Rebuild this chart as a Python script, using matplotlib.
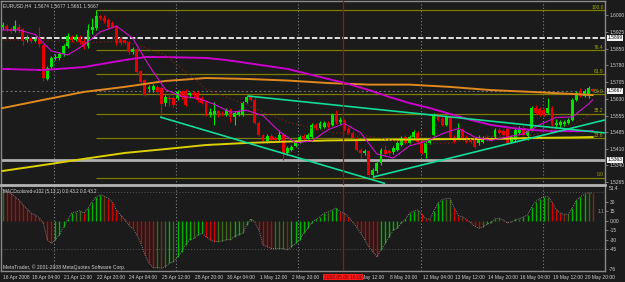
import numpy as np
import matplotlib
matplotlib.use("Agg")
import matplotlib.pyplot as plt
from matplotlib.transforms import blended_transform_factory as blend

plt.rcParams['font.family'] = ['Liberation Sans Narrow', 'Liberation Sans', 'DejaVu Sans']

# EURUSD H4 candles
opens = [1.5946, 1.5950, 1.5937, 1.5928, 1.5946, 1.5937, 1.5889, 1.5898, 1.5885, 1.5898,
         1.5867, 1.5718, 1.5770, 1.5810, 1.5810, 1.5827, 1.5863, 1.5902, 1.5889, 1.5902,
         1.5885, 1.5863, 1.5933, 1.5942, 1.5994, 1.5985, 1.5977, 1.5964, 1.5946, 1.5898,
         1.5889, 1.5880, 1.5836, 1.5849, 1.5753, 1.5713, 1.5674, 1.5669, 1.5683, 1.5678,
         1.5612, 1.5634, 1.5634, 1.5634, 1.5661, 1.5665, 1.5647, 1.5656, 1.5656, 1.5634,
         1.5617, 1.5560, 1.5564, 1.5577, 1.5568, 1.5560, 1.5582, 1.5551, 1.5560, 1.5560,
         1.5617, 1.5639, 1.5626, 1.5525, 1.5472, 1.5446, 1.5467, 1.5459, 1.5450, 1.5472,
         1.5393, 1.5406, 1.5424, 1.5441, 1.5467, 1.5454, 1.5463, 1.5516, 1.5503, 1.5507,
         1.5525, 1.5516, 1.5560, 1.5529, 1.5533, 1.5498, 1.5481, 1.5459, 1.5406, 1.5393,
         1.5402, 1.5296, 1.5314, 1.5349, 1.5406, 1.5402, 1.5397, 1.5406, 1.5428, 1.5463,
         1.5437, 1.5463, 1.5481, 1.5441, 1.5393, 1.5437, 1.5472, 1.5560, 1.5542, 1.5516,
         1.5551, 1.5463, 1.5459, 1.5494, 1.5463, 1.5454, 1.5450, 1.5437, 1.5441, 1.5463,
         1.5459, 1.5463, 1.5494, 1.5489, 1.5498, 1.5441, 1.5450, 1.5481, 1.5503, 1.5467,
         1.5494, 1.5590, 1.5586, 1.5582, 1.5568, 1.5590, 1.5516, 1.5516, 1.5520, 1.5525,
         1.5538, 1.5626, 1.5661, 1.5643, 1.5643, 1.5674]
highs = [1.5968, 1.5959, 1.5946, 1.5977, 1.5959, 1.5942, 1.5911, 1.5906, 1.5902, 1.5946,
         1.5871, 1.5775, 1.5819, 1.5827, 1.5836, 1.5871, 1.5920, 1.5911, 1.5915, 1.5911,
         1.5898, 1.5959, 1.5985, 1.6019, 1.5999, 1.5999, 1.5985, 1.5972, 1.5955, 1.5906,
         1.5893, 1.5885, 1.5858, 1.5854, 1.5757, 1.5718, 1.5691, 1.5696, 1.5691, 1.5687,
         1.5647, 1.5656, 1.5643, 1.5669, 1.5669, 1.5674, 1.5661, 1.5665, 1.5665, 1.5643,
         1.5626, 1.5590, 1.5617, 1.5582, 1.5577, 1.5590, 1.5590, 1.5577, 1.5582, 1.5621,
         1.5647, 1.5647, 1.5634, 1.5533, 1.5476, 1.5476, 1.5476, 1.5467, 1.5494, 1.5481,
         1.5424, 1.5428, 1.5450, 1.5472, 1.5476, 1.5481, 1.5525, 1.5525, 1.5533, 1.5533,
         1.5533, 1.5568, 1.5582, 1.5551, 1.5542, 1.5507, 1.5489, 1.5467, 1.5415, 1.5410,
         1.5406, 1.5327, 1.5358, 1.5415, 1.5428, 1.5410, 1.5424, 1.5446, 1.5467, 1.5472,
         1.5472, 1.5494, 1.5489, 1.5450, 1.5446, 1.5459, 1.5568, 1.5568, 1.5551, 1.5560,
         1.5560, 1.5472, 1.5525, 1.5503, 1.5472, 1.5463, 1.5459, 1.5472, 1.5467, 1.5472,
         1.5467, 1.5503, 1.5503, 1.5498, 1.5507, 1.5472, 1.5503, 1.5511, 1.5511, 1.5498,
         1.5599, 1.5604, 1.5595, 1.5590, 1.5634, 1.5599, 1.5542, 1.5538, 1.5538, 1.5547,
         1.5634, 1.5665, 1.5678, 1.5674, 1.5687, 1.5677]
lows = [1.5933, 1.5928, 1.5920, 1.5924, 1.5920, 1.5867, 1.5880, 1.5876, 1.5880, 1.5858,
        1.5709, 1.5713, 1.5762, 1.5801, 1.5801, 1.5819, 1.5854, 1.5880, 1.5885, 1.5871,
        1.5849, 1.5854, 1.5915, 1.5933, 1.5977, 1.5964, 1.5942, 1.5942, 1.5867, 1.5867,
        1.5871, 1.5827, 1.5827, 1.5744, 1.5696, 1.5643, 1.5661, 1.5661, 1.5652, 1.5551,
        1.5599, 1.5599, 1.5595, 1.5626, 1.5630, 1.5599, 1.5634, 1.5634, 1.5617, 1.5608,
        1.5555, 1.5551, 1.5516, 1.5551, 1.5555, 1.5555, 1.5529, 1.5516, 1.5555, 1.5555,
        1.5612, 1.5621, 1.5520, 1.5467, 1.5437, 1.5437, 1.5446, 1.5446, 1.5446, 1.5362,
        1.5384, 1.5402, 1.5419, 1.5437, 1.5450, 1.5450, 1.5459, 1.5494, 1.5498, 1.5503,
        1.5503, 1.5511, 1.5520, 1.5520, 1.5489, 1.5476, 1.5454, 1.5402, 1.5371, 1.5384,
        1.5285, 1.5287, 1.5305, 1.5340, 1.5380, 1.5384, 1.5388, 1.5402, 1.5424, 1.5432,
        1.5432, 1.5459, 1.5432, 1.5388, 1.5371, 1.5432, 1.5467, 1.5533, 1.5511, 1.5511,
        1.5459, 1.5437, 1.5454, 1.5454, 1.5437, 1.5437, 1.5415, 1.5428, 1.5437, 1.5446,
        1.5446, 1.5459, 1.5476, 1.5467, 1.5432, 1.5437, 1.5441, 1.5476, 1.5467, 1.5450,
        1.5489, 1.5564, 1.5555, 1.5555, 1.5564, 1.5511, 1.5503, 1.5503, 1.5511, 1.5520,
        1.5533, 1.5621, 1.5639, 1.5639, 1.5634, 1.5661]
closes = [1.5955, 1.5937, 1.5928, 1.5950, 1.5933, 1.5885, 1.5898, 1.5885, 1.5893, 1.5871,
          1.5722, 1.5766, 1.5810, 1.5814, 1.5827, 1.5863, 1.5906, 1.5889, 1.5902, 1.5880,
          1.5858, 1.5933, 1.5946, 1.5994, 1.5985, 1.5972, 1.5946, 1.5946, 1.5876, 1.5876,
          1.5876, 1.5836, 1.5849, 1.5748, 1.5705, 1.5647, 1.5683, 1.5687, 1.5661, 1.5608,
          1.5639, 1.5630, 1.5604, 1.5661, 1.5639, 1.5604, 1.5656, 1.5647, 1.5626, 1.5612,
          1.5564, 1.5573, 1.5577, 1.5560, 1.5560, 1.5582, 1.5551, 1.5568, 1.5573, 1.5612,
          1.5639, 1.5626, 1.5525, 1.5472, 1.5446, 1.5467, 1.5450, 1.5450, 1.5472, 1.5393,
          1.5415, 1.5419, 1.5441, 1.5463, 1.5454, 1.5472, 1.5516, 1.5503, 1.5525, 1.5525,
          1.5507, 1.5560, 1.5529, 1.5538, 1.5494, 1.5481, 1.5459, 1.5406, 1.5393, 1.5402,
          1.5296, 1.5318, 1.5349, 1.5406, 1.5388, 1.5393, 1.5415, 1.5437, 1.5459, 1.5437,
          1.5463, 1.5485, 1.5441, 1.5393, 1.5437, 1.5450, 1.5560, 1.5538, 1.5516, 1.5551,
          1.5463, 1.5441, 1.5494, 1.5459, 1.5441, 1.5441, 1.5419, 1.5463, 1.5459, 1.5450,
          1.5450, 1.5494, 1.5481, 1.5472, 1.5437, 1.5463, 1.5494, 1.5503, 1.5472, 1.5489,
          1.5590, 1.5568, 1.5560, 1.5560, 1.5590, 1.5516, 1.5525, 1.5529, 1.5529, 1.5538,
          1.5626, 1.5656, 1.5643, 1.5665, 1.5678, 1.5667]

# moving averages, sampled at bar positions
fast_bars = [0, 4, 8, 12, 16, 20, 24, 28, 32, 36, 40, 44, 48, 52, 56, 60, 64, 68, 72, 76,
             80, 84, 88, 92, 96, 100, 104, 108, 112, 116, 120, 124, 128, 132, 136, 140, 144, 145]
fast_ma = [1.5933, 1.5933, 1.5913, 1.5841, 1.5823, 1.5867, 1.5924, 1.5950, 1.5897, 1.5777,
           1.5672, 1.5641, 1.5633, 1.5607, 1.5572, 1.5580, 1.5557, 1.5488, 1.5438, 1.5446,
           1.5495, 1.5522, 1.5482, 1.5388, 1.5371, 1.5424, 1.5444, 1.5477, 1.5501, 1.5463,
           1.5448, 1.5463, 1.5477, 1.5517, 1.5549, 1.5551, 1.5608, 1.5626]
slow_bars = [0, 10, 20, 30, 35, 40, 50, 55, 60, 65, 70, 75, 80, 85, 90, 95, 100, 105, 110,
             115, 120, 125, 130, 135, 140, 145]
slow_ma = [1.5762, 1.5757, 1.5770, 1.5801, 1.5814, 1.5814, 1.5810, 1.5801, 1.5788, 1.5775,
           1.5762, 1.5740, 1.5718, 1.5696, 1.5669, 1.5639, 1.5612, 1.5590, 1.5564, 1.5538,
           1.5516, 1.5503, 1.5494, 1.5489, 1.5489, 1.5489]
long_bars = [0, 10, 20, 30, 40, 50, 60, 70, 80, 90, 100, 110, 120, 130, 140, 145]
orange_ma = [1.5590, 1.5626, 1.5661, 1.5683, 1.5709, 1.5722, 1.5718, 1.5711, 1.5700, 1.5693,
             1.5693, 1.5683, 1.5669, 1.5661, 1.5652, 1.5647]
yellow_ma = [1.5314, 1.5340, 1.5367, 1.5393, 1.5410, 1.5428, 1.5437, 1.5443, 1.5448, 1.5450,
             1.5452, 1.5454, 1.5454, 1.5459, 1.5461, 1.5463]
dotted_ma = [1.5889, 1.5889, 1.5876, 1.5885, 1.5823, 1.5674, 1.5604, 1.5529, 1.5485, 1.5467,
             1.5434, 1.5437, 1.5467, 1.5470, 1.5518, 1.5565]

# trend lines (bar, price) pairs
trend_lines = [((38.7, 1.5551), (94.0, 1.5259)),
               ((60.3, 1.5643), (148.0, 1.5481)),
               ((91.0, 1.5287), (148.0, 1.5538))]

fib_low, fib_high, fib_start = 1.5285, 1.6019, 23
fib_pcts = [0.0, 23.6, 38.2, 50.0, 61.8, 76.4, 100.0]

price_ticks = [1.6000, 1.5925, 1.5850, 1.5780, 1.5705, 1.5630, 1.5555, 1.5485, 1.5410,
               1.5340, 1.5265]
marked_prices = [1.5899, 1.5667, 1.5363]

macd = [50, 46, 43, 38, 33, 25, 19, 12, 9, 5,
        -4, -30, -36, -30, -22, -10, 2, 12, 14, 16,
        12, 20, 30, 38, 41, 39, 35, 30, 17, 9,
        2, -7, -12, -23, -36, -54, -67, -74, -74, -75,
        -73, -67, -65, -57, -49, -38, -30, -28, -23, -20,
        -25, -30, -33, -33, -32, -30, -30, -25, -22, -20,
        -7, 3, -2, -15, -38, -41, -44, -44, -44, -44,
        -46, -41, -36, -30, -20, -12, -3, 2, 6, 12,
        14, 17, 20, 14, 12, 6, -2, -10, -20, -30,
        -41, -49, -57, -46, -36, -25, -15, -12, -3, 2,
        12, 15, 17, 10, 3, 2, 16, 28, 33, 35,
        35, 20, 8, 6, 2, -3, -9, -12, -10, -6,
        -3, 3, 4, 1, -3, -2, 2, 3, 6, 9,
        22, 30, 35, 38, 38, 30, 18, 12, 10, 10,
        20, 32, 38, 42, 44, 43.2]
macd_ticks = [30, 15, 0, -15, -30, -45]
macd_tick_labels = ['30', '15', '0.00', '-15', '-30', '-45']

date_bars = [7, 15, 23, 31, 39, 47, 55, 63, 71, 87, 95, 103, 111, 119, 127, 135, 143]
date_labels = ['18 Apr 04:00', '21 Apr 12:00', '22 Apr 20:00', '24 Apr 04:00', '25 Apr 12:00',
               '28 Apr 20:00', '30 Apr 04:00', '1 May 12:00', '2 May 20:00', '7 May 12:00',
               '8 May 20:00', '12 May 04:00', '13 May 12:00', '14 May 20:00', '16 May 04:00',
               '19 May 12:00', '20 May 20:00']
separator_bars = [12.7, 42.7, 72.7, 102.7, 132.7]
cursor_bar = 83.75

BG = '#1b1b1b'
FG = '#d0d0d0'
FRAME = '#8a8a8a'
W, H = 625, 282
FS = 3.5


def box(x0, y0, x1, y1):
    return [x0 / W, 1 - y1 / H, (x1 - x0) / W, (y1 - y0) / H]


fig = plt.figure(figsize=(W / 100, H / 100), dpi=100, facecolor=BG)
ax = fig.add_axes(box(1, 1, 605, 185), facecolor=BG)
am = fig.add_axes(box(1, 187, 605, 271), facecolor=BG)

n = len(closes)
idx = np.arange(n)
x_lo, x_hi = -0.37, 148.03
for a in (ax, am):
    a.set_xlim(x_lo, x_hi)
    a.set_xticks([])
    for s in a.spines.values():
        s.set_color(FRAME)
        s.set_linewidth(1)
ax.set_ylim(1.52524, 1.60601)
am.set_ylim(-79.5, 53.2)
ax.spines['bottom'].set_color('#b4b4b4')
ax.spines['bottom'].set_linewidth(2)
am.spines['top'].set_visible(False)

# grid / separators
for a in (ax, am):
    for b in separator_bars:
        a.axvline(b, color='#7a8494', lw=0.8, ls=(0, (1, 2)), zorder=1)
    a.axvline(cursor_bar, color='#9a1414', lw=0.9, zorder=6)

# fibonacci
for pct in fib_pcts:
    p = fib_low + (fib_high - fib_low) * pct / 100
    ax.hlines(p, fib_start, x_hi, color='#7c7c00', lw=0.9, zorder=2)
    ax.text(x_hi - 0.3, p + 0.0012, f'{pct:.1f}', ha='right', va='center',
            color='#a8a800', fontsize=FS, zorder=7)

# horizontal lines
ax.axhline(marked_prices[0], color='#f0f0f0', lw=1.3, ls=(0, (3, 1.2)), zorder=2)
ax.axhline(marked_prices[1], color='#6c6c6c', lw=0.8, ls=(0, (2, 2)), zorder=2)
ax.axhline(marked_prices[2], color='#b0b0b0', lw=2.0, zorder=2)

# slow lines
ax.plot(long_bars, yellow_ma, color='#dcd000', lw=1.4, zorder=4)
ax.plot(long_bars, orange_ma, color='#e0891e', lw=1.4, zorder=4)
ax.plot(slow_bars, slow_ma, color='#cc00cc', lw=1.4, zorder=4)
ax.plot(long_bars, dotted_ma, color='#7a2010', lw=0.9, ls=(0, (1, 2)), zorder=4)

# candles
o = np.array(opens)
c = np.array(closes)
up = c >= o
col = np.where(up, '#00e400', '#e80000')
ax.vlines(idx, lows, highs, colors=col, lw=0.8, zorder=3)
ax.bar(idx, np.maximum(np.abs(c - o), 0.0003), bottom=np.minimum(o, c), width=0.72,
       color=col, lw=0, zorder=3)

ax.plot(fast_bars, fast_ma, color='#d010d0', lw=0.8, zorder=5)

for (b0, p0), (b1, p1) in trend_lines:
    ax.plot([b0, b1], [p0, p1], color='#12dc96', lw=1.2, zorder=5, solid_capstyle='butt')

# price scale
ax.yaxis.tick_right()
ax.set_yticks(price_ticks)
ax.set_yticklabels([f'{p:.4f}' for p in price_ticks], fontsize=FS, color=FG)
ax.tick_params(axis='y', colors=FRAME, labelcolor=FG, length=2, width=0.6, pad=1.2)
tr = blend(ax.transAxes, ax.transData)
for p in marked_prices:
    ax.text(1.0045, p, f'{p:.4f}', transform=tr, ha='left', va='center', fontsize=FS,
            color='#111111', zorder=8, clip_on=False,
            bbox=dict(facecolor='#f4f4f4', edgecolor='none', pad=0.4))

# MACD histogram
prev = np.concatenate([[macd[0]], macd[:-1]])
d = np.array(macd) - prev
mcol = []
for v in d:
    if v >= 0:
        mcol.append('#00b400' if v > 2.5 else '#3e6a1a')
    else:
        mcol.append('#d00000' if v < -2.5 else '#72301a')
am.vlines(idx, 0, macd, colors=mcol, lw=1.0, zorder=3)
am.plot(idx, macd, color='#9c9c9c', lw=0.6, ls=(0, (1, 1.5)), zorder=4)
for lvl in (45, -45):
    am.axhline(lvl, color='#5a5a5a', lw=0.7, ls=(0, (1, 2)), zorder=1)
am.yaxis.tick_right()
am.set_yticks(macd_ticks)
am.set_yticklabels(macd_tick_labels, fontsize=FS, color=FG)
am.tick_params(axis='y', colors=FRAME, labelcolor=FG, length=2, width=0.6, pad=1.2)
trm = blend(am.transAxes, am.transData)
am.text(1.006, 50.5, '51.4', transform=trm, ha='left', va='center', fontsize=FS, color=FG)
am.text(1.006, -76.5, '-76', transform=trm, ha='left', va='center', fontsize=FS, color=FG)
am.text(146.2, 15, '1.1', ha='left', va='center', fontsize=FS, color='#9a9a9a')

# date scale
trd = blend(am.transData, am.transAxes)
am.text(0.1, -0.072, '16 Apr 2008', transform=trd, ha='left', va='center', fontsize=FS, color=FG)
for b, lab in zip(date_bars, date_labels):
    am.text(b + 0.2, -0.072, lab, transform=trd, ha='left', va='center', fontsize=FS,
            color=FG, clip_on=False)
am.text(cursor_bar, -0.072, '2008.05.06 16:00', transform=trd, ha='center', va='center',
        fontsize=FS, color='#6a0000', zorder=9, clip_on=False,
        bbox=dict(facecolor='#ff1a1a', edgecolor='none', pad=0.6))

fig.text(3 / W, 1 - 6 / H, 'EURUSD,H4  1.5674 1.5677 1.5661 1.5667', fontsize=FS,
         color=FG, va='center')
fig.text(3 / W, 1 - 191 / H, 'MACDcolored-v102 (5,13,1) 0.0 43.2 0.0 43.2', fontsize=3.3,
         color=FG, va='center')
fig.text(3 / W, 1 - 267 / H, 'MetaTrader, \u00a9 2001-2008 MetaQuotes Software Corp.',
         fontsize=3.6, color=FG, va='center')

fig.savefig('out.png', dpi=100, facecolor=BG)
